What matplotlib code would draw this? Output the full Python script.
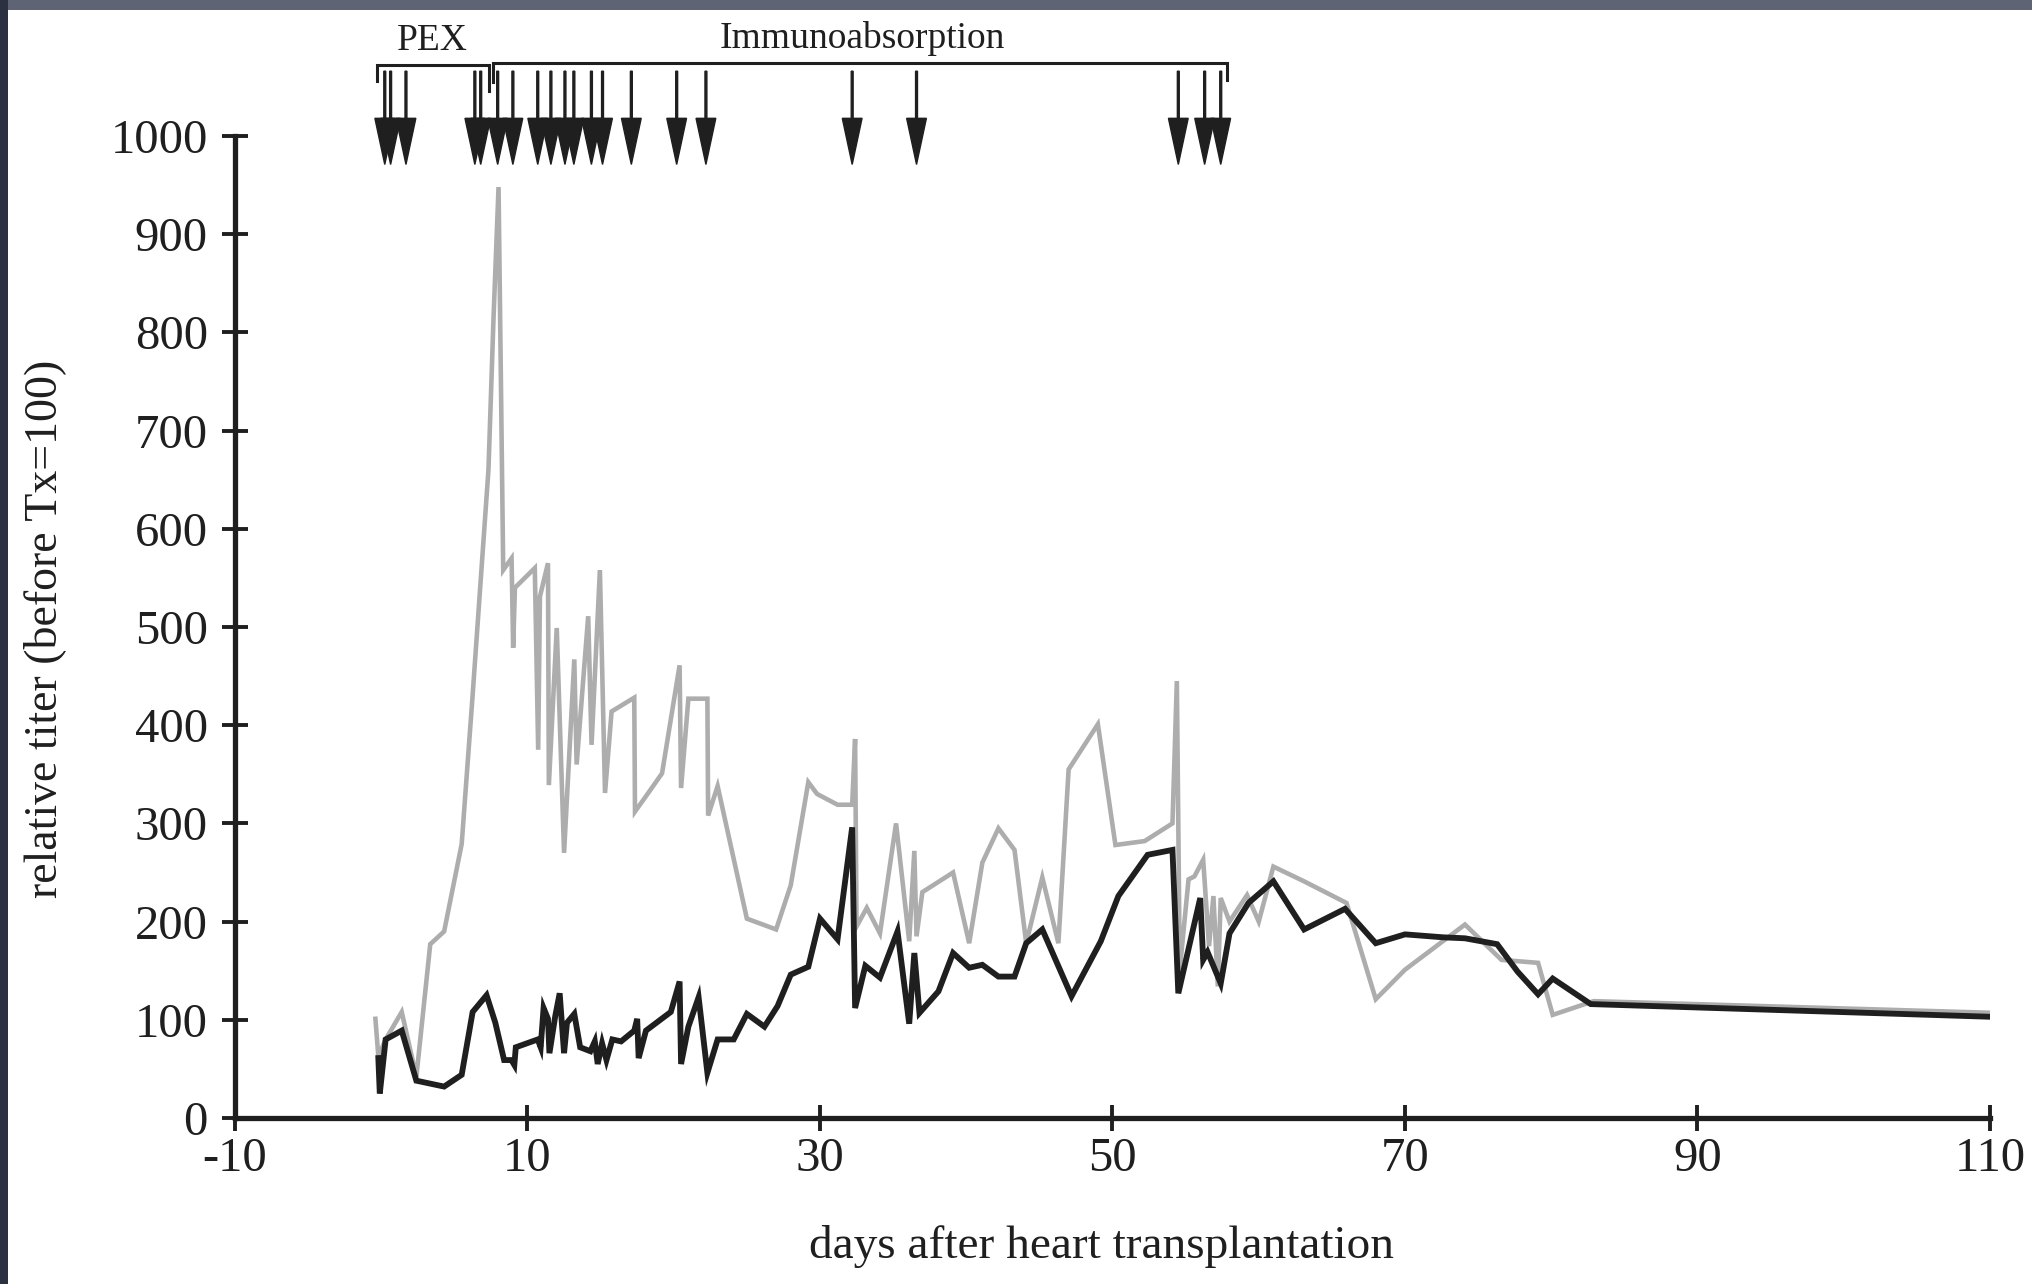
import matplotlib
matplotlib.use('Agg')
import matplotlib.pyplot as plt
from matplotlib.patches import Rectangle

plt.rcParams['font.family'] = ['Liberation Serif', 'DejaVu Serif']
plt.rcParams['axes.unicode_minus'] = False

# black series (days after Tx, relative titer)
days_black = [-0.2, -0.1, 0.3, 1.4, 2.4, 4.3, 5.5, 6.25, 7.2, 7.8, 8.4, 8.9, 9.1, 9.2,
              10.7, 10.9, 11.1, 11.4, 11.5, 11.9, 12.2, 12.5, 12.7, 13.2, 13.6, 14.3,
              14.6, 14.8, 15.1, 15.4, 15.8, 16.4, 17.3, 17.5, 17.6, 18.1, 19.8, 20.4,
              20.5, 21.0, 21.7, 22.3, 23.0, 24.1, 25.0, 26.2, 27.1, 28.0, 29.2, 30.0,
              31.2, 32.2, 32.4, 33.1, 34.1, 35.3, 36.1, 36.45, 36.8, 38.1, 39.1, 40.2,
              41.1, 42.2, 43.3, 44.1, 45.2, 47.2, 49.2, 50.4, 52.4, 54.1, 54.5, 56.0,
              56.2, 56.5, 57.4, 58.0, 59.3, 61.0, 63.1, 65.9, 68.0, 70.0, 72.6, 74.1,
              76.3, 77.7, 79.1, 80.1, 82.7, 110.2]
titer_black = [61, 25, 80, 89, 38, 32, 44, 108, 125, 97, 59, 59, 54, 72,
               80, 72, 112, 101, 66, 104, 127, 66, 97, 106, 72, 68,
               78, 55, 76, 59, 80, 78, 89, 101, 61, 89, 108, 139,
               55, 93, 123, 46, 80, 80, 106, 93, 114, 146, 154, 203,
               182, 296, 112, 155, 143, 190, 96, 168, 107, 129, 168, 153,
               156, 144, 144, 178, 192, 124, 180, 226, 268, 273, 127, 224,
               161, 169, 137, 188, 219, 241, 192, 213, 178, 187, 184, 183,
               177, 149, 126, 142, 116, 103]

# grey series
days_grey = [-0.4, -0.2, 0.3, 1.4, 2.4, 3.35, 4.3, 5.5, 6.25, 7.33, 7.68, 8.02, 8.34,
             8.91, 9.02, 9.14, 10.5, 10.73, 10.85, 11.4, 11.46, 12.0, 12.5, 13.2, 13.36,
             14.15, 14.38, 14.95, 15.3, 15.75, 17.3, 17.35, 18.4, 19.2, 20.4, 20.5, 21.0,
             22.3, 22.35, 23.0, 25.0, 27.0, 28.0, 29.2, 29.8, 31.2, 32.2, 32.4, 32.5,
             33.2, 34.1, 35.2, 36.1, 36.45, 36.6, 37.0, 39.1, 40.2, 41.1, 42.2, 43.3,
             44.1, 45.2, 46.3, 47.0, 49.0, 50.2, 52.2, 54.1, 54.4, 54.6, 55.2, 55.6,
             56.2, 56.6, 56.9, 57.2, 57.4, 58.0, 59.2, 60.0, 61.0, 63.1, 66.0, 68.0,
             70.0, 74.1, 76.6, 79.1, 80.1, 82.9, 110.4]
titer_grey = [101, 63, 80, 108, 42, 177, 190, 279, 431, 660, 816, 948, 558,
              570, 479, 540, 560, 375, 531, 565, 339, 499, 270, 467, 360,
              511, 380, 558, 331, 414, 428, 312, 334, 351, 461, 336, 427,
              427, 308, 338, 203, 192, 237, 342, 330, 319, 319, 386, 195,
              214, 188, 300, 180, 272, 185, 230, 250, 178, 260, 295, 273,
              178, 245, 178, 355, 401, 278, 282, 300, 445, 151, 243, 246,
              263, 175, 226, 134, 224, 200, 227, 200, 256, 241, 219, 121,
              151, 197, 161, 158, 105, 119, 107]

# treatment days (arrows)
pex_days = [0.24, 0.64, 1.69, 6.4, 6.8]
ia_days = [7.96, 9.0, 10.7, 11.6, 12.56, 13.17, 14.37, 15.13, 17.1, 20.2,
           22.2, 32.2, 36.6, 54.5, 56.3, 57.4]

x_ticks = [-10, 10, 30, 50, 70, 90, 110]
y_ticks = list(range(0, 1001, 100))

ink = '#1f1f1f'

fig = plt.figure(figsize=(20.33, 12.84), dpi=100)
fig.patch.set_facecolor('white')

# slide border strips
fig.patches.append(Rectangle((0, 1 - 10 / 1284), 1, 10 / 1284, transform=fig.transFigure,
                             facecolor='#5e6474', edgecolor='none', zorder=0))
fig.patches.append(Rectangle((0, 0), 8 / 2033, 1, transform=fig.transFigure,
                             facecolor='#2c3141', edgecolor='none', zorder=1))

ax = fig.add_axes([235 / 2033, 166 / 1284, 1755 / 2033, 982 / 1284])
ax.set_xlim(-10, 110)
ax.set_ylim(0, 1000)

ax.plot(days_grey, titer_grey, color='#adadad', lw=3.3, solid_joinstyle='miter', zorder=2)
ax.plot(days_black, titer_black, color=ink, lw=4.2, solid_joinstyle='miter', zorder=3)

for s in ['top', 'right']:
    ax.spines[s].set_visible(False)
for s in ['left', 'bottom']:
    ax.spines[s].set_linewidth(3.8)
    ax.spines[s].set_color(ink)

ax.set_xticks(x_ticks)
ax.set_yticks(y_ticks)
ax.tick_params(direction='inout', length=19, width=2.8, color=ink,
               labelsize=35, labelcolor=ink)
ax.tick_params(axis='y', pad=10)
ax.tick_params(axis='x', pad=4)

# arrows for each treatment
for d in pex_days + ia_days:
    ax.arrow(d, 1066, 0, -95, width=0.13, head_width=1.35, head_length=47,
             length_includes_head=True, color=ink, clip_on=False, zorder=4)

# brackets
def bracket(x0, x1, y, y_left, y_right):
    ax.plot([x0, x0, x1, x1], [y_left, y, y, y_right], color=ink, lw=2.2,
            clip_on=False, solid_joinstyle='miter')

bracket(-0.3, 7.4, 1072, 1056, 1046)
bracket(7.65, 57.8, 1074, 1055, 1057)
ax.text(3.5, 1097, 'PEX', ha='center', va='center', fontsize=27, color=ink, clip_on=False)
ax.text(32.9, 1099, 'Immunoabsorption', ha='center', va='center', fontsize=27,
        color=ink, clip_on=False)

fig.text(1102 / 2033, 1 - 1247 / 1284, 'days after heart transplantation',
         ha='center', va='center', fontsize=34, color=ink)
fig.text(45 / 2033, 1 - 629 / 1284, 'relative titer (before Tx=100)', rotation=90,
         ha='center', va='center', fontsize=33, color=ink)

fig.savefig('out.png', dpi=100, facecolor=fig.get_facecolor())
